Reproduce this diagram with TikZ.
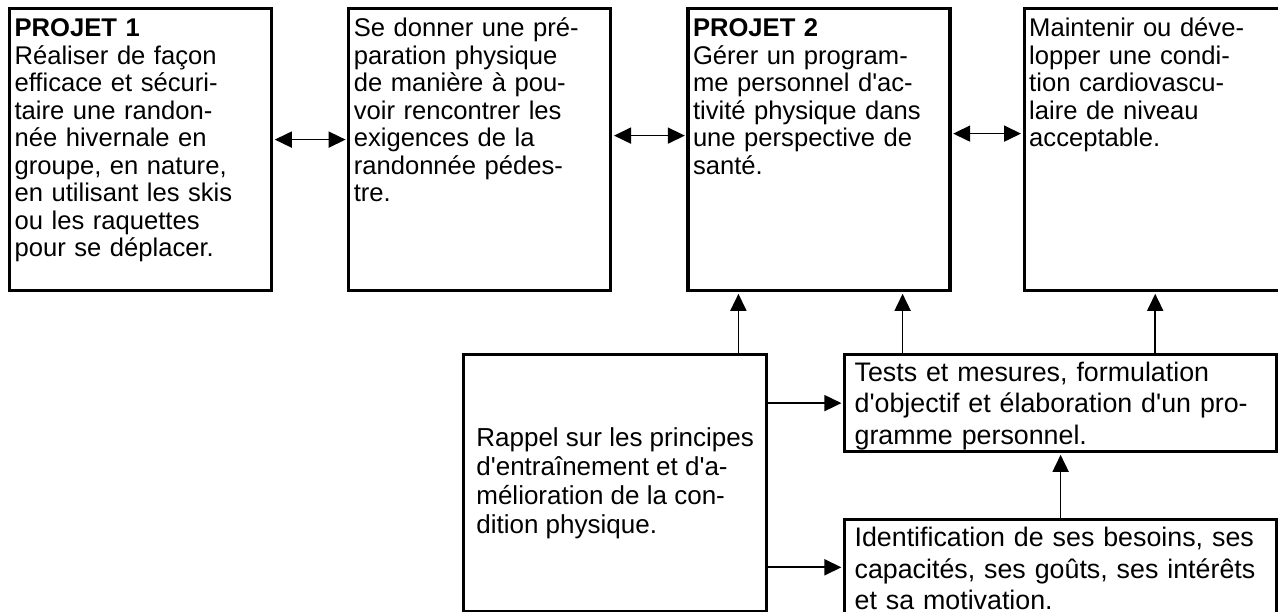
\documentclass[tikz,border=0pt]{standalone}
\usepackage{fontspec}
\setmainfont[Ligatures=TeXOff]{Liberation Sans}
\usepackage{tikz}
\usetikzlibrary{positioning,arrows.meta}

\begin{document}
\begin{tikzpicture}
        \tikzstyle{every node}=[draw, line width=1.6pt, align=left, inner ysep=3pt]
        \tikzstyle{topbox}=[text width=126pt, inner xsep=2.5pt, text height=11pt, text depth=124pt, font=\fontsize{12.8pt}{13.75pt}\selectfont]
        \tikzstyle{lowbox}=[text width=206pt, inner xsep=5pt, text height=10.5pt, text depth=32pt, font=\fontsize{13.4pt}{15.6pt}\selectfont]
        \tikzstyle{arr}=[line width=0.85pt, -{Triangle[length=8.5pt,width=8pt]}, shorten >=0.8pt]
        \tikzstyle{dblarr}=[line width=0.85pt, {Triangle[length=8.5pt,width=8pt]}-{Triangle[length=8.5pt,width=8pt]}, shorten >=0.8pt, shorten <=0.8pt]

        \useasboundingbox (0,0) rectangle (639pt,-305.5pt);

        % projects and goals
        \node   (b1)    [topbox, anchor=north west] at (4pt,-3.5pt) {\textbf{PROJET 1}\\Réaliser de façon\\efficace et sécuri-\\taire une randon-\\née hivernale en\\groupe, en nature,\\en utilisant les skis\\ou les raquettes\\pour se déplacer.};
        \node   (b2)    [topbox, right=37pt of b1] {Se donner une pré-\\paration physique\\de manière à pou-\\voir rencontrer les\\exigences de la\\randonnée pédes-\\tre.};
        \node   (b3)    [topbox, right=37pt of b2] {\textbf{PROJET 2}\\Gérer un program-\\me personnel d'ac-\\tivité physique dans\\une perspective de\\santé.};
        \node   (b4)    [topbox, right=35.5pt of b3] {Maintenir ou déve-\\lopper une condi-\\tion cardiovascu-\\laire de niveau\\acceptable.};

        % lower row
        \node   (rap)   [minimum width=151.5pt, minimum height=128.5pt, font=\fontsize{13pt}{14.45pt}\selectfont, anchor=north west] at (231pt,-176.5pt) {Rappel sur les principes\\d'entraînement et d'a-\\mélioration de la con-\\dition physique.};
        \node   (tests) [lowbox, anchor=north west] at (421.5pt,-176.5pt) {Tests et mesures, formulation\\d'objectif et élaboration d'un pro-\\gramme personnel.};
        \node   (ident) [lowbox, text depth=31pt, below=32.5pt of tests] {Identification de ses besoins, ses\\capacités, ses goûts, ses intérêts\\et sa motivation.};

        \draw[dblarr] ([yshift=5pt]b1.east) -- ([yshift=5pt]b2.west);
        \draw[dblarr] ([yshift=7pt]b2.east) -- ([yshift=7pt]b3.west);
        \draw[dblarr] ([yshift=8pt]b3.east) -- ([yshift=8pt]b4.west);

        \draw[arr] ([xshift=26pt]b3.south west |- rap.north) -- ([xshift=26pt]b3.south west);
        \draw[arr] ([xshift=-24.5pt]b3.south east |- tests.north) -- ([xshift=-24.5pt]b3.south east);
        \draw[arr] (b4.south |- tests.north) -- (b4.south);
        \draw[arr] (ident.north) -- (tests.south);
        \draw[arr] (rap.east |- tests.west) -- (tests.west);
        \draw[arr] (rap.east |- ident.west) -- (ident.west);

    \end{tikzpicture}
\end{document}
